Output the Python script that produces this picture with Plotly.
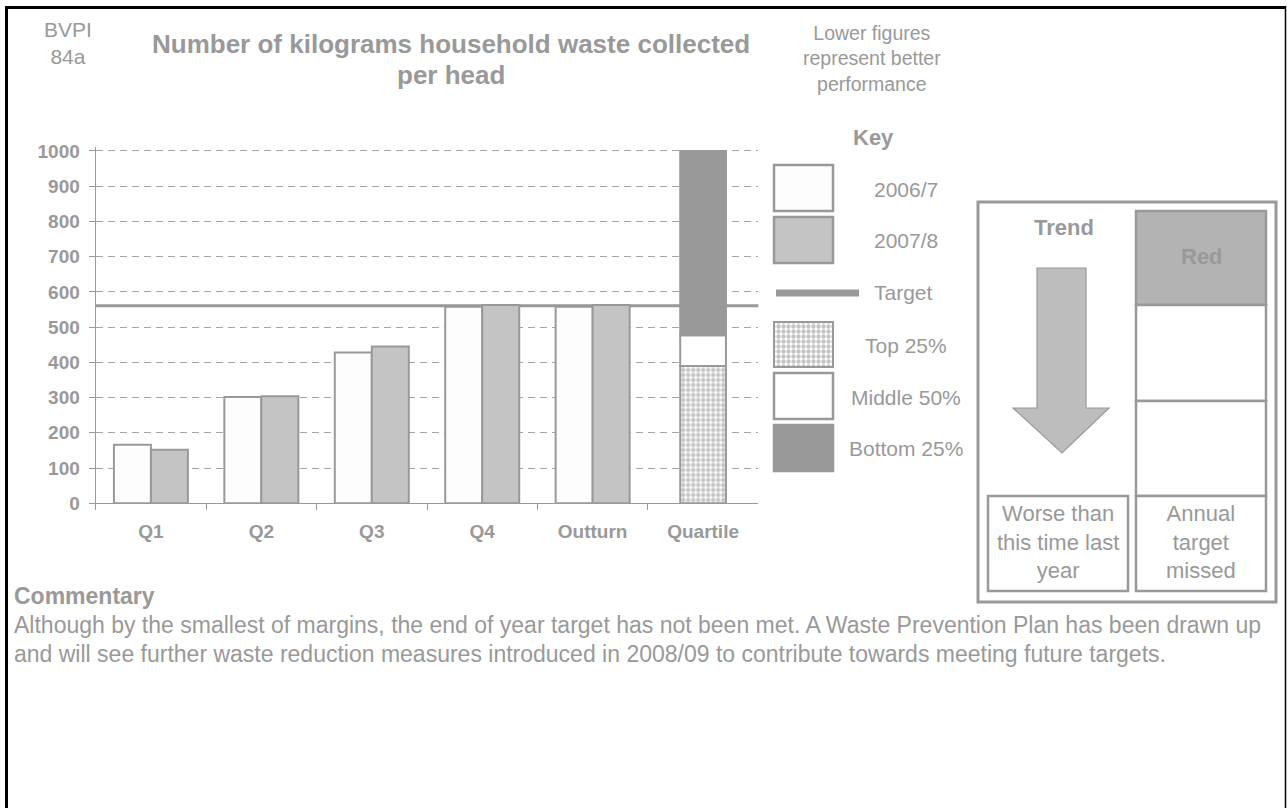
import plotly.graph_objects as go

# ---- data -------------------------------------------------------------
categories = ["Q1", "Q2", "Q3", "Q4", "Outturn", "Quartile"]
periods = ["Q1", "Q2", "Q3", "Q4", "Outturn"]
kg_2006_7 = [166, 302, 428, 558, 558]
kg_2007_8 = [152, 304, 445, 563, 563]
target_kg = 561
quartile_names = ["Top 25%", "Middle 50%", "Bottom 25%"]
quartile_bounds = [0, 390, 477, 1000]
y_ticks = [0, 100, 200, 300, 400, 500, 600, 700, 800, 900, 1000]

# ---- page geometry helpers (pixel -> paper) --------------------------
W, H = 1287, 808
FONT = "Liberation Sans, Arial, sans-serif"
GREY = "#999999"


def px(x):
    return x / W


def py(y):
    return 1 - y / H


shapes = []
annotations = []


def rect(x0, y0, x1, y1, fill="white", line=GREY, lw=2.5, layer="above"):
    shapes.append(dict(type="rect", xref="paper", yref="paper",
                       x0=px(x0), x1=px(x1), y0=py(y1), y1=py(y0),
                       fillcolor=fill, line=dict(color=line, width=lw),
                       layer=layer))


def label(text, x, y, size, bold=False, color=GREY, xanchor="center"):
    annotations.append(dict(text=f"<b>{text}</b>" if bold else text,
                            x=px(x), y=py(y), xref="paper", yref="paper",
                            xanchor=xanchor, yanchor="middle",
                            showarrow=False, align=xanchor if xanchor != "center" else "center",
                            font=dict(family=FONT, size=size, color=color)))


fig = go.Figure()

# ---- main bars ---------------------------------------------------------
bar_w = 0.335
fig.add_trace(go.Bar(x=periods, y=kg_2006_7, name="2006/7",
                     width=bar_w, offset=-bar_w,
                     marker=dict(color="#fdfdfd", line=dict(color=GREY, width=2))))
fig.add_trace(go.Bar(x=periods, y=kg_2007_8, name="2007/8",
                     width=bar_w, offset=0,
                     marker=dict(color="#c4c4c4", line=dict(color=GREY, width=2))))

chequer = dict(shape=".", size=5, solidity=0.6, fgcolor="#8a8a8a", bgcolor="white")
q_w = 0.414
q_styles = [
    dict(color="white", pattern=chequer),
    dict(color="white"),
    dict(color="#999999"),
]
for i, name in enumerate(quartile_names):
    lo, hi = quartile_bounds[i], quartile_bounds[i + 1]
    fig.add_trace(go.Bar(x=["Quartile"], y=[hi - lo], base=[lo], name=name,
                         width=q_w, offset=-q_w / 2,
                         marker=dict(line=dict(color=GREY, width=2), **q_styles[i])))

# key swatch for the chequered band, drawn on its own small axis
fig.add_trace(go.Bar(x=[0], y=[1], base=[0], width=1, xaxis="x2", yaxis="y2",
                     marker=dict(color="white", line=dict(color=GREY, width=2),
                                 pattern=chequer)))

# target line
shapes.append(dict(type="line", xref="x domain", yref="y", x0=0, x1=1,
                   y0=target_kg, y1=target_kg, line=dict(color=GREY, width=3),
                   layer="below"))

# ---- page frame --------------------------------------------------------
shapes.append(dict(type="rect", xref="paper", yref="paper", x0=px(5), x1=px(1286),
                   y0=py(9), y1=py(6), fillcolor="black", line=dict(width=0)))
shapes.append(dict(type="rect", xref="paper", yref="paper", x0=px(5), x1=px(8),
                   y0=0, y1=py(6), fillcolor="black", line=dict(width=0)))
shapes.append(dict(type="line", xref="paper", yref="paper", x0=px(1285.5), x1=px(1285.5),
                   y0=0, y1=py(6), line=dict(color="black", width=1.5)))

# ---- header text -------------------------------------------------------
label("BVPI<br>84a", 68, 43, 21)
label("Number of kilograms household waste collected", 451, 44, 26, bold=True)
label("per head", 451, 75, 26, bold=True)
label("Lower figures<br>represent better<br>performance", 872, 59, 19.5)

# ---- key ---------------------------------------------------------------
label("Key", 873, 137, 22, bold=True)
rect(774, 165, 833, 211, fill="#fdfdfd")
rect(774, 217, 833, 263, fill="#c4c4c4")
shapes.append(dict(type="line", xref="paper", yref="paper", x0=px(776), x1=px(859),
                   y0=py(293), y1=py(293), line=dict(color=GREY, width=7)))
rect(774, 373, 833, 419, fill="white")
rect(774, 425, 833, 471, fill="#999999")
key_rows = [("2006/7", 906, 189), ("2007/8", 906, 240), ("Target", 903, 292),
            ("Top 25%", 906, 345), ("Middle 50%", 906, 397), ("Bottom 25%", 906, 448)]
for txt, x, y in key_rows:
    label(txt, x, y, 21)

# ---- trend / status panel ---------------------------------------------
rect(978, 202, 1276, 602, fill="white", lw=3)
label("Trend", 1064, 227, 22, bold=True)
arrow = [(1037, 268), (1086, 268), (1086, 408), (1109, 408), (1062, 453),
         (1013, 408), (1037, 408)]
path = "M " + " L ".join(f"{px(x)} {py(y)}" for x, y in arrow) + " Z"
shapes.append(dict(type="path", xref="paper", yref="paper", path=path,
                   fillcolor="#bdbdbd", line=dict(color=GREY, width=1.2)))
rect(1136, 211, 1266, 305, fill="#b3b3b3")
label("Red", 1202, 257, 22, bold=True)
rect(1136, 305, 1266, 401)
rect(1136, 401, 1266, 496)
rect(1136, 496, 1266, 591)
rect(988, 496, 1128, 591)
label("Worse than<br>this time last<br>year", 1058, 542, 22)
label("Annual<br>target<br>missed", 1201, 542, 22)

# ---- commentary --------------------------------------------------------
label("Commentary", 12, 596, 23, bold=True, xanchor="left")
label("Although by the smallest of margins, the end of year target has not been met. "
      "A Waste Prevention Plan has been drawn up", 12, 625, 23, xanchor="left")
label("and will see further waste reduction measures introduced in 2008/09 "
      "to contribute towards meeting future targets.", 12, 654, 23, xanchor="left")

# ---- layout ------------------------------------------------------------
tick_font = dict(family=FONT, size=19, color=GREY, weight="bold")
# headroom above 1000 so its dashed gridline is kept
y_top = 1010
px_per_unit = (503.3 - 151) / 1000
fig.update_layout(
    width=W, height=H, margin=dict(l=0, r=0, t=0, b=0),
    paper_bgcolor="white", plot_bgcolor="rgba(0,0,0,0)",
    showlegend=False, barmode="overlay",
    font=dict(family=FONT, color=GREY),
    xaxis=dict(domain=[px(95.7), px(758.3)], type="category",
               categoryorder="array", categoryarray=categories,
               range=[-0.5, len(categories) - 0.5],
               showline=True, linecolor=GREY, linewidth=1.2,
               ticks="outside", tickson="boundaries", ticklen=6, tickcolor=GREY,
               tickfont=tick_font, ticklabelstandoff=11,
               showgrid=False, zeroline=False, automargin=False),
    yaxis=dict(domain=[py(503.3), py(503.3 - y_top * px_per_unit)], range=[0, y_top],
               tickvals=y_ticks, showline=True, linecolor=GREY, linewidth=1.2,
               ticks="outside", ticklen=6, tickcolor=GREY, tickfont=tick_font,
               ticklabelstandoff=5,
               showgrid=True, gridcolor="#a6a6a6", gridwidth=1, griddash="7px,5px",
               zeroline=False, automargin=False),
    xaxis2=dict(domain=[px(771), px(836)], range=[-0.5 - 3 / 59, 0.5 + 3 / 59],
                anchor="y2", visible=False, fixedrange=True),
    yaxis2=dict(domain=[py(370), py(319)], range=[-3 / 45, 1 + 3 / 45],
                anchor="x2", visible=False, fixedrange=True),
    shapes=shapes, annotations=annotations,
)

fig.write_html("out.html")
